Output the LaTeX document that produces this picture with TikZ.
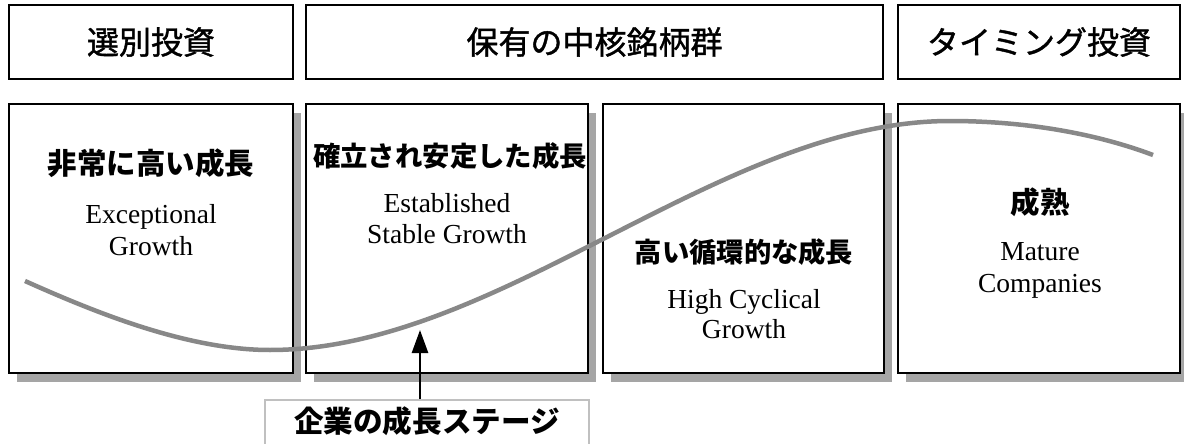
\documentclass[tikz,border=0pt]{standalone}
\usepackage{fontspec}
\setmainfont{Liberation Serif}
\newfontfamily\jp{Noto Sans CJK JP}
\newfontfamily\jpt[FakeBold=1.2]{Noto Sans CJK JP}
\usetikzlibrary{arrows.meta,shadows}
\definecolor{curvegray}{RGB}{136,136,136}
\definecolor{shadowgray}{RGB}{165,165,165}
\definecolor{labelgray}{RGB}{192,192,192}
\begin{document}
\begin{tikzpicture}[x=1pt,y=-1pt,
  box/.style={draw=black, line width=1.6pt, fill=white, inner sep=0pt},
  shadowbox/.style={box, drop shadow={shadow xshift=8pt, shadow yshift=-9pt, fill=shadowgray, opacity=1}},
  toptitle/.style={font=\jpt\fontsize{32}{36}\selectfont},
  jptitle/.style={font=\jp\bfseries\fontsize{#1}{#1}\selectfont, inner sep=0pt},
  entext/.style={font=\fontsize{27.5}{31}\selectfont, anchor=base, inner sep=0pt},
  labelbox/.style={draw=labelgray, line width=1.5pt, fill=white, inner sep=0pt},
  arrowline/.style={line width=2.6pt, -{Triangle[length=23pt,width=16pt]}},
  curveline/.style={draw=curvegray, line width=4.5pt}]
\useasboundingbox (0,0) rectangle (1184,444);
% top boxes
\node[box, toptitle, minimum width=284pt, minimum height=74pt] (t1) at (151,42) {選別投資};
\node[box, toptitle, minimum width=577pt, minimum height=74pt] (t2) at (594.5,42) {保有の中核銘柄群};
\node[box, toptitle, minimum width=282pt, minimum height=74pt] (t3) at (1039,42) {タイミング投資};
% stage boxes
\node[shadowbox, minimum width=284pt, minimum height=269pt] (b1) at (151,238.5) {};
\node[shadowbox, minimum width=282pt, minimum height=269pt] (b2) at (447,238.5) {};
\node[shadowbox, minimum width=281pt, minimum height=269pt] (b3) at (743.5,238.5) {};
\node[shadowbox, minimum width=282pt, minimum height=269pt] (b4) at (1039,238.5) {};
% curve
\draw[curveline] (25,281) .. controls (90,310) and (185,350) .. (270,350)
  .. controls (500,350) and (720,121) .. (950,121)
  .. controls (1030,121) and (1100,135) .. (1153,155);
% stage texts
\node[jptitle=29.5] (h1) at (151,163) {非常に高い成長};
\node[entext] (e1a) at (151,223) {Exceptional};
\node[entext] (e1b) at (151,255) {Growth};
\node[jptitle=27.4] (h2) at (450,156) {確立され安定した成長};
\node[entext] (e2a) at (447,212) {Established};
\node[entext] (e2b) at (447,243) {Stable Growth};
\node[jptitle=27.3] (h3) at (744,252) {高い循環的な成長};
\node[entext] (e3a) at (744,308) {High Cyclical};
\node[entext] (e3b) at (744,338) {Growth};
\node[jptitle=29.5] (h4) at (1040,202) {成熟};
\node[entext] (e4a) at (1040,260) {Mature};
\node[entext] (e4b) at (1040,292) {Companies};
% label
\node[labelbox, minimum width=324pt, minimum height=70pt, anchor=north] (lb) at (427,399) {};
\node[jptitle=29.6] (lt) at (427,421) {企業の成長ステージ};
\coordinate (tip) at (420,330);
\draw[arrowline] (lb.north -| tip) -- (tip);
\end{tikzpicture}
\end{document}
